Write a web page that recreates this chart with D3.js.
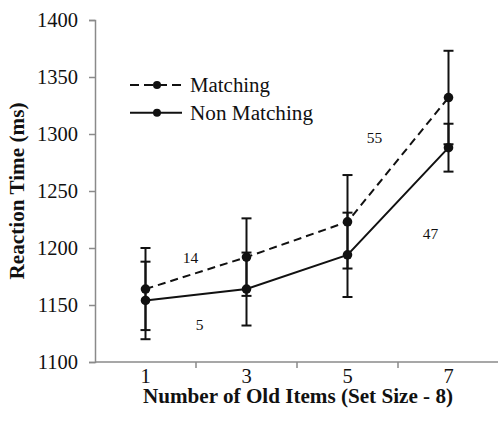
<!DOCTYPE html>
<html>
<head>
<meta charset="utf-8">
<script src="https://cdn.jsdelivr.net/npm/d3@7"></script>
<style>
  html, body { margin: 0; padding: 0; background: #fff; }
  svg { display: block; }
  text { font-family: "Liberation Serif", "Times New Roman", serif; fill: #111; }
</style>
</head>
<body>
<svg id="chart" width="498" height="427"></svg>
<script>
// ---- data ----
const categories = [1, 3, 5, 7];
const matching = [1164, 1192, 1223, 1332];
const matchingErr = [36, 34, 41, 41];
const nonMatching = [1154, 1164, 1194, 1288];
const nonMatchingErr = [34, 32, 37, 21];
const yTicks = [1100, 1150, 1200, 1250, 1300, 1350, 1400];
const annotations = [
  { label: "14", cat: 1, value: 1187, dx: 45 },
  { label: "5", cat: 1, value: 1128, dx: 54 },
  { label: "55", cat: 5, value: 1292, dx: 27 },
  { label: "47", cat: 7, value: 1208, dx: -18 }
];
const seriesNames = ["Matching", "Non Matching"];

// ---- layout ----
const svg = d3.select("#chart");
const mLeft = 95, mRight = 499, mTop = 20, mBottom = 362;

const x = d3.scaleBand().domain(categories).range([mLeft, mRight]);
const y = d3.scaleLinear().domain([1100, 1400]).range([mBottom, mTop]);
const cx = d => x(d) + x.bandwidth() / 2;

const axisColor = "#8a8a8a";

// y axis
const yAxis = svg.append("g").attr("transform", `translate(${mLeft},0)`)
  .call(d3.axisLeft(y).tickValues(yTicks).tickSize(6).tickPadding(11).tickFormat(d3.format("d")));
yAxis.select(".domain").attr("stroke", axisColor).attr("stroke-width", 1.5);
yAxis.selectAll(".tick line").attr("stroke", axisColor).attr("stroke-width", 1.5);
yAxis.selectAll(".tick text").attr("font-size", 20.5).attr("font-family", "Liberation Serif").attr("fill", "#111");

// x axis (ticks at band boundaries)
const xg = svg.append("g");
xg.append("line").attr("x1", mLeft).attr("x2", mRight + 1).attr("y1", mBottom).attr("y2", mBottom)
  .attr("stroke", axisColor).attr("stroke-width", 1.5);
categories.forEach(c => {
  const bx = x(c) + x.bandwidth();
  xg.append("line").attr("x1", bx).attr("x2", bx).attr("y1", mBottom).attr("y2", mBottom + 6)
    .attr("stroke", axisColor).attr("stroke-width", 1.5);
  xg.append("text").attr("x", cx(c)).attr("y", mBottom + 21).attr("text-anchor", "middle")
    .attr("font-size", 20.5).text(c);
});

// axis titles
svg.append("text").attr("x", 298).attr("y", 403).attr("text-anchor", "middle")
  .attr("font-size", 20).attr("font-weight", "bold")
  .attr("textLength", 310).attr("lengthAdjust", "spacingAndGlyphs")
  .text("Number of Old Items (Set Size - 8)");
svg.append("text").attr("transform", `translate(24,${(mTop + mBottom) / 2}) rotate(-90)`)
  .attr("text-anchor", "middle").attr("font-size", 20).attr("font-weight", "bold")
  .attr("textLength", 177).attr("lengthAdjust", "spacingAndGlyphs")
  .text("Reaction Time (ms)");

// series
const series = [
  { name: seriesNames[0], values: matching, err: matchingErr, dash: "8,5", width: 80 },
  { name: seriesNames[1], values: nonMatching, err: nonMatchingErr, dash: null, width: 123 }
];
const line = d3.line().x((d, i) => cx(categories[i])).y(d => y(d));

series.forEach(s => {
  s.values.forEach((v, i) => {
    const px = cx(categories[i]);
    const g = svg.append("g").attr("stroke", "#111").attr("stroke-width", 2);
    g.append("line").attr("x1", px).attr("x2", px).attr("y1", y(v - s.err[i])).attr("y2", y(v + s.err[i]));
    [v - s.err[i], v + s.err[i]].forEach(e => {
      g.append("line").attr("x1", px - 5).attr("x2", px + 5).attr("y1", y(e)).attr("y2", y(e));
    });
  });
});
series.forEach(s => {
  svg.append("path").datum(s.values).attr("d", line).attr("fill", "none")
    .attr("stroke", "#111").attr("stroke-width", 2).attr("stroke-dasharray", s.dash);
  svg.selectAll(null).data(s.values).enter().append("circle")
    .attr("cx", (d, i) => cx(categories[i])).attr("cy", d => y(d)).attr("r", 4.8).attr("fill", "#111");
});

// annotations
annotations.forEach(a => {
  svg.append("text").attr("x", cx(a.cat) + a.dx).attr("y", y(a.value)).attr("text-anchor", "middle")
    .attr("font-size", 15.5).text(a.label);
});

// legend
const legend = svg.append("g");
series.forEach((s, i) => {
  const ly = 85 + i * 27.7;
  legend.append("line").attr("x1", 130).attr("x2", 182).attr("y1", ly).attr("y2", ly)
    .attr("stroke", "#111").attr("stroke-width", 2).attr("stroke-dasharray", s.dash ? "9,5" : null);
  legend.append("circle").attr("cx", 157).attr("cy", ly).attr("r", 4).attr("fill", "#111");
  legend.append("text").attr("x", 190).attr("y", ly + 7).attr("font-size", 20.5)
    .attr("textLength", s.width).attr("lengthAdjust", "spacingAndGlyphs").text(s.name);
});
</script>
</body>
</html>
